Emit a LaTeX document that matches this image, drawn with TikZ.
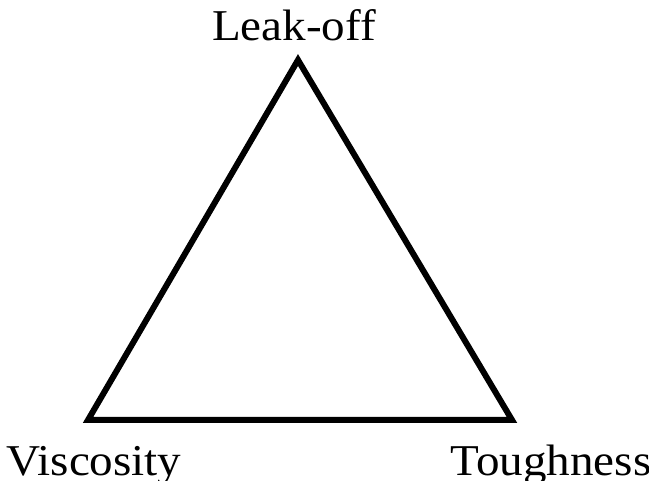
\documentclass[tikz,border=0pt]{standalone}
\usepackage{fontspec}
\setmainfont{Liberation Serif}
\begin{document}
\begin{tikzpicture}[x=1pt,y=-1pt,
  lbl/.style={font=\fontsize{44}{44}\selectfont, text=black, inner sep=0pt, anchor=base, xscale=1.07},
  edge/.style={line width=6pt, line join=miter}]
\useasboundingbox (0,0) rectangle (649,481);
\coordinate (top) at (298,60);
\coordinate (bl) at (88,420);
\coordinate (br) at (512,420);
\draw[edge] (top) -- (bl) -- (br) -- cycle;
\node[lbl] (leak) at (294,41) {Leak-off};
\node[lbl] (visc) at (94,476) {Viscosity};
\node[lbl] (tough) at (551,476) {Toughness};
\end{tikzpicture}
\end{document}
